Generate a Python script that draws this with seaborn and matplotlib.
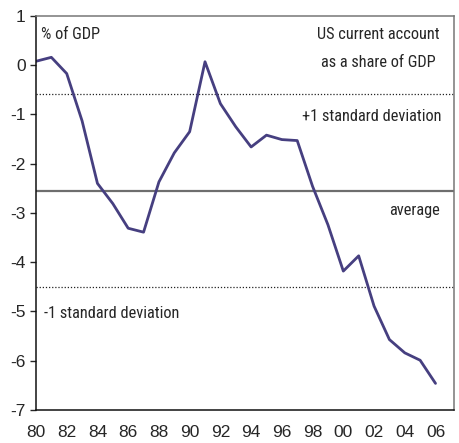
import matplotlib
matplotlib.use("Agg")
import matplotlib.pyplot as plt
from matplotlib import font_manager
import seaborn as sns
import pandas as pd

years = list(range(1980, 2007))
current_account = [0.08, 0.16, -0.17, -1.13, -2.40, -2.81, -3.31, -3.39, -2.37,
                   -1.78, -1.35, 0.07, -0.78, -1.25, -1.66, -1.42, -1.51, -1.53,
                   -2.46, -3.24, -4.18, -3.87, -4.89, -5.57, -5.84, -5.99, -6.46]
average = -2.55
plus_sd = -0.58
minus_sd = -4.50
tick_years = list(range(1980, 2007, 2))
tick_labels = [f"{y % 100:02d}" for y in tick_years]

sns.set_style("white")
plt.rcParams['font.family'] = ['Liberation Sans', 'DejaVu Sans']
plt.rcParams['axes.unicode_minus'] = False

# a narrower face for the annotations, if one is around
installed = {f.name for f in font_manager.fontManager.ttflist}
narrow = [n for n in ['Liberation Sans Narrow', 'Roboto Condensed', 'Open Sans Condensed',
                      'DejaVu Sans Condensed', 'Roboto'] if n in installed]
label_font = [narrow[0] if narrow else 'Liberation Sans', 'DejaVu Sans']

df = pd.DataFrame({"year": years, "value": current_account})

fig = plt.figure(figsize=(4.59, 4.43), dpi=100)
ax = fig.add_axes([0.0784, 0.0745, 0.9106, 0.8895])

ax.axhline(plus_sd, color="#222222", lw=0.9, ls=(0, (1, 1.5)))
ax.axhline(minus_sd, color="#222222", lw=0.9, ls=(0, (1, 1.5)))
ax.axhline(average, color="#6e6e6e", lw=1.6)

sns.lineplot(data=df, x="year", y="value", color="#463f80", lw=2.0, ax=ax)

ax.set_xlim(1980, 2007.2)
ax.set_ylim(-7, 1)
ax.set_xticks(tick_years)
ax.set_xticklabels(tick_labels)
ax.set_yticks(range(-7, 2))
ax.set_xlabel("")
ax.set_ylabel("")
ax.tick_params(axis="x", length=0, pad=11, labelsize=12.5)
ax.tick_params(axis="y", length=4.5, width=1, pad=3, labelsize=12.5, left=True, direction="out")

for side in ["left", "bottom"]:
    ax.spines[side].set_color("#111111")
    ax.spines[side].set_linewidth(1.1)
for side in ["top", "right"]:
    ax.spines[side].set_color("#777777")
    ax.spines[side].set_linewidth(1.1)

fs = 11.8
yx = ax.get_yaxis_transform()
ax.text(0.012, 0.54, "% of GDP", transform=yx, ha="left", va="baseline",
        fontsize=fs, family=label_font)
ax.text(0.82, 0.54, "US current account", transform=yx,
        ha="center", va="baseline", fontsize=fs, family=label_font)
ax.text(0.82, -0.03, "as a share of GDP", transform=yx,
        ha="center", va="baseline", fontsize=fs, family=label_font)
ax.text(0.97, -1.14, "+1 standard deviation", transform=yx,
        ha="right", va="baseline", fontsize=fs, family=label_font)
ax.text(0.967, -3.05, "average", transform=yx,
        ha="right", va="baseline", fontsize=fs, family=label_font)
ax.text(0.018, -5.14, "-1 standard deviation", transform=yx,
        ha="left", va="baseline", fontsize=fs, family=label_font)

fig.savefig("out.png", dpi=100)
